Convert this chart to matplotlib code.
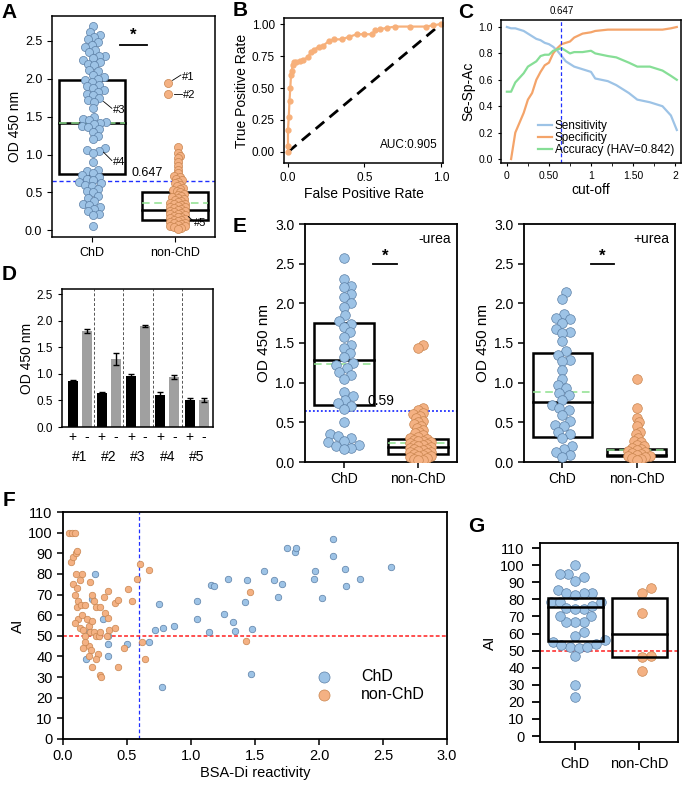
import numpy as np
import matplotlib
matplotlib.use("Agg")
import matplotlib.pyplot as plt
from matplotlib.patches import Rectangle
import matplotlib.transforms as mtransforms

plt.rcParams['font.family'] = ['Liberation Sans', 'DejaVu Sans']
plt.rcParams['axes.linewidth'] = 1.1

BLUE = '#9DC3E6'
BLUE_EDGE = '#5B7FA6'
ORANGE = '#F4B183'
ORANGE_EDGE = '#C9854F'
MEAN_GREEN = '#8EE08E'

# ---------------- data ----------------
# A: OD 450 nm, BSA-Di ELISA
a_chd = [2.70, 2.62, 2.58, 2.55, 2.52, 2.48, 2.45, 2.42, 2.38, 2.35, 2.30, 2.30, 2.28,
         2.25, 2.22, 2.20, 2.18, 2.12, 2.10, 2.05, 2.02, 2.00, 1.98, 1.96, 1.92, 1.90,
         1.88, 1.85, 1.83, 1.80, 1.78, 1.75, 1.72, 1.70, 1.62, 1.50, 1.47, 1.45, 1.43,
         1.42, 1.40, 1.38, 1.36, 1.34, 1.30, 1.25, 1.20, 1.08, 1.06, 1.05, 1.02, 0.90,
         0.80, 0.78, 0.75, 0.73, 0.70, 0.68, 0.66, 0.64, 0.62, 0.60, 0.58, 0.55, 0.52,
         0.50, 0.45, 0.42, 0.38, 0.35, 0.33, 0.30, 0.28, 0.25, 0.22, 0.20, 0.05]
a_non = [1.10, 1.02, 0.98, 0.95, 0.90, 0.85, 0.80, 0.75, 0.72, 0.70, 0.68, 0.66, 0.64,
         0.62, 0.60, 0.58, 0.56, 0.55, 0.53, 0.52, 0.50, 0.48, 0.47, 0.45, 0.44, 0.42,
         0.41, 0.40, 0.38, 0.37, 0.36, 0.35, 0.34, 0.33, 0.32, 0.31, 0.30, 0.29, 0.28,
         0.27, 0.26, 0.25, 0.24, 0.23, 0.22, 0.21, 0.20, 0.19, 0.18, 0.17, 0.16, 0.15,
         0.14, 0.13, 0.12, 0.11, 0.10, 0.09, 0.08, 0.07, 0.06, 0.05, 0.04, 0.03, 0.02]
a_outliers = [1.94, 1.80]          # #1, #2
a_box_chd = [0.74, 1.41, 1.98, 1.41]   # low, median, high, mean
a_box_non = [0.13, 0.27, 0.51, 0.36]
a_cut = 0.647

# B: ROC
roc_fpr = [0.0, 0.0, 0.0, 0.005, 0.01, 0.015, 0.02, 0.025, 0.03, 0.04, 0.05, 0.08, 0.10,
           0.13, 0.15, 0.17, 0.20, 0.23, 0.27, 0.30, 0.35, 0.40, 0.45, 0.50, 0.55, 0.57,
           0.60, 0.65, 0.70, 0.80, 0.90, 0.95, 1.0]
roc_tpr = [0.0, 0.05, 0.17, 0.27, 0.40, 0.50, 0.60, 0.63, 0.68, 0.70, 0.70, 0.71, 0.72,
           0.74, 0.78, 0.80, 0.82, 0.83, 0.87, 0.88, 0.88, 0.90, 0.92, 0.92, 0.92, 0.95,
           0.96, 0.97, 0.98, 0.98, 0.98, 0.99, 1.0]

# C: Se-Sp-Ac vs cut-off
c_cut = [0.0, 0.05, 0.1, 0.2, 0.25, 0.3, 0.35, 0.4, 0.45, 0.5, 0.55, 0.6, 0.65, 0.7, 0.75,
         0.8, 0.9, 1.0, 1.05, 1.2, 1.3, 1.45, 1.55, 1.7, 1.85, 1.95, 2.02]
c_sens = [1.0, 0.99, 0.99, 0.97, 0.95, 0.93, 0.91, 0.90, 0.88, 0.87, 0.85, 0.82, 0.78,
          0.74, 0.72, 0.70, 0.68, 0.66, 0.61, 0.59, 0.56, 0.50, 0.45, 0.43, 0.40, 0.33, 0.22]
c_spec = [np.nan, 0.0, 0.20, 0.35, 0.45, 0.50, 0.60, 0.66, 0.71, 0.73, 0.80, 0.84, 0.87,
          0.88, 0.89, 0.92, 0.95, 0.96, 0.97, 0.98, 0.98, 0.98, 0.98, 0.98, 0.98, 0.99, 1.0]
c_acc = [0.51, 0.51, 0.58, 0.65, 0.70, 0.72, 0.74, 0.78, 0.79, 0.79, 0.82, 0.83, 0.84,
         0.82, 0.80, 0.81, 0.81, 0.82, 0.80, 0.78, 0.77, 0.73, 0.70, 0.70, 0.67, 0.63, 0.60]

# D: urea treatment of samples #1-#5
d_names = ['#1', '#2', '#3', '#4', '#5']
d_plus = [0.87, 0.65, 0.97, 0.60, 0.50]
d_plus_err = [0.01, 0.01, 0.02, 0.06, 0.05]
d_minus = [1.81, 1.28, 1.90, 0.94, 0.51]
d_minus_err = [0.03, 0.12, 0.02, 0.04, 0.03]

# E: -urea / +urea
e_minus_chd = [2.57, 2.31, 2.22, 2.20, 2.12, 2.08, 2.00, 1.95, 1.85, 1.78, 1.74, 1.70,
               1.64, 1.58, 1.48, 1.44, 1.38, 1.32, 1.25, 1.22, 1.18, 1.13, 1.10, 1.05,
               0.88, 0.83, 0.78, 0.74, 0.71, 0.67, 0.50, 0.35, 0.33, 0.30, 0.27, 0.25,
               0.22, 0.20, 0.18, 0.17]
e_minus_non = [1.47, 1.44, 0.68, 0.65, 0.62, 0.60, 0.58, 0.55, 0.52, 0.50, 0.48, 0.45,
               0.43, 0.40, 0.38, 0.36, 0.34, 0.32, 0.30, 0.29, 0.28, 0.27, 0.26, 0.25,
               0.24, 0.23, 0.22, 0.21, 0.20, 0.19, 0.18, 0.17, 0.16, 0.15, 0.14, 0.13,
               0.12, 0.11, 0.10, 0.09, 0.08, 0.07, 0.06, 0.05, 0.04, 0.03, 0.02]
e_plus_chd = [2.14, 2.05, 1.87, 1.82, 1.80, 1.75, 1.68, 1.64, 1.62, 1.52, 1.40, 1.35,
              1.28, 1.27, 1.16, 1.05, 0.97, 0.93, 0.87, 0.84, 0.78, 0.72, 0.68, 0.65,
              0.59, 0.52, 0.47, 0.45, 0.38, 0.35, 0.30, 0.20, 0.17, 0.12, 0.09, 0.06]
e_plus_non = [1.04, 0.68, 0.55, 0.50, 0.45, 0.38, 0.35, 0.30, 0.27, 0.25, 0.22, 0.20,
              0.18, 0.16, 0.15, 0.14, 0.12, 0.11, 0.10, 0.09, 0.08, 0.07, 0.06, 0.05,
              0.04, 0.03]
e_minus_box_chd = [0.72, 1.29, 1.75, 1.23]
e_minus_box_non = [0.10, 0.19, 0.29, 0.24]
e_plus_box_chd = [0.32, 0.76, 1.38, 0.88]
e_plus_box_non = [0.07, 0.09, 0.17, 0.155]
e_cut = 0.645

# F: AI vs BSA-Di reactivity
f_chd_x = [0.25, 0.23, 0.20, 0.31, 0.35, 0.35, 0.35, 0.18, 0.50, 0.67, 0.72, 0.75, 0.78,
           0.77, 0.87, 1.05, 1.05, 1.14, 1.16, 1.18, 1.26, 1.29, 1.33, 1.34, 1.42, 1.44,
           1.47, 1.48, 1.57, 1.65, 1.68, 1.71, 1.75, 1.81, 1.82, 1.96, 1.97, 2.02, 2.11,
           2.11, 2.20, 2.21, 2.32, 2.56]
f_chd_y = [80, 68, 52, 58, 50, 46, 40, 39, 46, 47, 53, 65.5, 54, 25, 55, 67, 58, 52,
           74.5, 74, 60.5, 77.5, 56.5, 52.5, 66.5, 77, 31.5, 53.5, 81.5, 77, 69, 75, 92.5,
           90.5, 92.5, 77.5, 81.5, 68.5, 97, 88.5, 82.5, 74, 77.5, 83.5]
f_non_x = [0.05, 0.07, 0.09, 0.06, 0.08, 0.10, 0.11, 0.10, 0.15, 0.08, 0.11, 0.13, 0.09,
           0.11, 0.12, 0.14, 0.17, 0.12, 0.15, 0.09, 0.13, 0.16, 0.19, 0.20, 0.21, 0.23,
           0.17, 0.20, 0.17, 0.22, 0.16, 0.20, 0.23, 0.21, 0.23, 0.24, 0.26, 0.29, 0.24,
           0.26, 0.28, 0.29, 0.27, 0.26, 0.29, 0.30, 0.32, 0.35, 0.33, 0.35, 0.34, 0.36,
           0.41, 0.41, 0.43, 0.43, 0.48, 0.51, 0.54, 0.58, 0.60, 0.67, 0.62, 0.64, 1.43,
           1.46]
f_non_y = [100, 100, 100, 86, 88, 90, 91, 80, 80, 75, 73, 77, 70, 64, 67, 65, 65, 58, 60,
           56, 54, 53, 58, 55, 52, 57, 50, 45, 47, 43, 44, 40, 35, 76, 70, 67, 64, 64, 52,
           50, 50, 52, 41, 39, 31, 30, 69, 71.5, 61, 58.5, 50, 53, 54, 66, 67.5, 35, 44,
           72.5, 67, 77.5, 85, 82, 47, 39, 47.5, 71]

# G: AI by group
g_chd = [100, 94.6, 95, 93, 90.6, 85.2, 83.5, 83.5, 83.5, 82.8, 78.5, 78.5, 78.5, 75,
         74.5, 74.5, 76, 70, 66.5, 66.5, 67, 70.5, 61, 58.6, 56, 55, 53.6, 52, 51.6, 52,
         53, 46.8, 29.8, 23]
g_non = [86.7, 83.8, 72, 47, 46.2, 38]
g_box_chd = [55.6, 75.4, 81]
g_box_non = [46.2, 59.6, 80.7]

# ---------------- helpers ----------------
W, H = 686, 789
fig = plt.figure(figsize=(W / 100, H / 100), dpi=100)


def add_ax(x0, y0, x1, y1):
    return fig.add_axes([x0 / W, 1 - y1 / H, (x1 - x0) / W, (y1 - y0) / H])


def swarm_x(ax, x0, vals, s, gap=1.0):
    """simple beeswarm in display space, returns x data coords"""
    vals = np.asarray(vals, float)
    pts = ax.transData.transform(np.column_stack([np.full(len(vals), x0), vals]))
    cx = pts[0, 0]
    ys = pts[:, 1]
    d = np.sqrt(s) * 100 / 72 * gap
    placed = []
    xs = np.zeros(len(vals))
    for i in np.argsort(ys):
        y = ys[i]
        off = 0.0
        for k in range(400):
            cands = [0.0] if k == 0 else [k * d * 0.2, -k * d * 0.2]
            found = False
            for c in cands:
                if all((c - px) ** 2 + (y - py) ** 2 >= d * d for px, py in placed):
                    off = c
                    found = True
                    break
            if found:
                break
        placed.append((off, y))
        xs[i] = cx + off
    back = ax.transData.inverted().transform(np.column_stack([xs, ys]))
    return back[:, 0]


def draw_box(ax, x, w, stats, lw=1.8, mean=True, z=2):
    lo, med, hi = stats[0], stats[1], stats[2]
    ax.add_patch(Rectangle((x - w / 2, lo), w, hi - lo, fill=False, ec='k', lw=lw, zorder=z))
    ax.plot([x - w / 2, x + w / 2], [med, med], color='k', lw=lw, zorder=z)
    if mean and len(stats) > 3:
        ax.plot([x - w / 2, x + w / 2], [stats[3], stats[3]], color=MEAN_GREEN, lw=1.1,
                ls=(0, (5, 3)), zorder=z + 0.1)


def panel_label(x, y, s):
    fig.text(x / W, 1 - y / H, s, fontsize=15, fontweight='bold', ha='center', va='center')


# ---------------- A ----------------
ax = add_ax(52, 16, 215, 237)
ax.set_xlim(-0.48, 1.48)
ax.set_ylim(-0.09, 2.83)
sA = 34
draw_box(ax, 0, 0.8, a_box_chd)
draw_box(ax, 1, 0.8, a_box_non)
ax.axhline(a_cut, color='#1f2fff', lw=1.0, ls=(0, (3, 2)), zorder=1)
ax.text(0.66, a_cut + 0.03, '0.647', fontsize=9, ha='center', va='bottom')
xa = swarm_x(ax, 0.01, a_chd, sA, gap=0.75)
ax.scatter(xa, a_chd, s=sA, c=BLUE, edgecolors=BLUE_EDGE, linewidths=0.5, zorder=3)
xn = swarm_x(ax, 1.03, a_non, sA, gap=0.45)
ax.scatter(xn, a_non, s=sA, c=ORANGE, edgecolors=ORANGE_EDGE, linewidths=0.5, zorder=3)
ax.scatter([0.92, 0.92], a_outliers, s=sA, c=ORANGE, edgecolors=ORANGE_EDGE, linewidths=0.5, zorder=3)
ax.plot([0.34, 0.66], [2.45, 2.45], color='k', lw=1.3)
ax.text(0.5, 2.47, '*', fontsize=12, ha='center', va='bottom', fontweight='bold')
for lbl, p0, p1 in [('#1', (0.97, 1.98), (1.07, 2.05)), ('#2', (0.99, 1.80), (1.08, 1.80)),
                    ('#3', (0.14, 1.70), (0.24, 1.61)), ('#4', (0.14, 1.03), (0.24, 0.92)),
                    ('#5', (1.16, 0.18), (1.22, 0.12))]:
    ax.plot([p0[0], p1[0]], [p0[1], p1[1]], color='k', lw=0.6, zorder=4)
    ax.text(p1[0] + 0.01, p1[1] - 0.02, lbl, fontsize=8, ha='left', va='center', zorder=4)
ax.set_xticks([0, 1])
ax.set_xticklabels(['ChD', 'non-ChD'], fontsize=9.5)
ax.set_yticks([0, 0.5, 1.0, 1.5, 2.0, 2.5])
ax.set_yticklabels(['0.0', '0.5', '1.0', '1.5', '2.0', '2.5'])
ax.tick_params(labelsize=9, length=3.5)
ax.set_ylabel('OD 450 nm', fontsize=10, labelpad=2)

# ---------------- B ----------------
ax = add_ax(284, 18, 443, 163)
ax.set_xlim(-0.026, 1.013)
ax.set_ylim(-0.086, 1.047)
ax.plot([0, 1], [0, 1], color='k', lw=2.0, ls=(0, (4, 2.5)))
ax.plot(roc_fpr, roc_tpr, color='#F7B07A', lw=1.6, marker='o', ms=3.5, mec='#F7B07A')
ax.text(0.98, 0.01, 'AUC:0.905', fontsize=8.5, ha='right', va='bottom')
ax.set_xticks([0, 0.5, 1.0])
ax.set_xticklabels(['0.0', '0.5', '1.0'])
ax.set_yticks([0, 0.25, 0.5, 0.75, 1.0])
ax.set_yticklabels(['0.00', '0.25', '0.50', '0.75', '1.00'])
ax.tick_params(labelsize=8.5, length=3)
ax.set_xlabel('False Positive Rate', fontsize=10, labelpad=2)
ax.set_ylabel('True Positive Rate', fontsize=10, labelpad=2)

# ---------------- C ----------------
narrow = ['Liberation Sans Narrow', 'Liberation Sans']
ax = add_ax(501, 20, 681, 163)
ax.set_xlim(-0.07, 2.07)
ax.set_ylim(-0.03, 1.053)
ax.plot(c_cut, c_sens, color='#9DC3E6', lw=1.6, label='Sensitivity')
ax.plot(c_cut, c_spec, color='#F4A46A', lw=1.6, label='Specificity')
ax.plot(c_cut, c_acc, color='#86DE96', lw=1.6, label='Accuracy (HAV=0.842)')
ax.axvline(0.647, color='#1f2fff', lw=0.9, ls=(0, (3, 2)))
ax.text(0.647, 1.08, '0.647', fontsize=7, ha='center', va='bottom', family=narrow)
ax.set_xticks([0, 0.5, 1, 1.5, 2])
ax.set_xticklabels(['0', '0.50', '1', '1.50', '2'], family=narrow)
ax.set_xticks([0.25, 0.75, 1.25, 1.75], minor=True)
ax.set_yticks([0, 0.2, 0.4, 0.6, 0.8, 1.0])
ax.set_yticklabels(['0.0', '0.2', '0.4', '0.6', '0.8', '1.0'], family=narrow)
ax.tick_params(labelsize=7.5, length=2.5)
ax.tick_params(which='minor', length=2)
ax.set_xlabel('cut-off', fontsize=10, labelpad=1)
ax.set_ylabel('Se-Sp-Ac', fontsize=10, labelpad=2)
ax.legend(loc='lower right', frameon=False, handlelength=1.2,
          handletextpad=0.2, labelspacing=0.0, borderaxespad=0.2,
          prop={'family': narrow, 'size': 8.5})

# ---------------- D ----------------
ax = add_ax(62, 289, 213, 427)
ax.set_xlim(-0.6, 4.56)
ax.set_ylim(0, 2.6)
gx = np.arange(len(d_names))
ax.bar(gx - 0.24, d_plus, width=0.34, color='k', yerr=d_plus_err, capsize=2.5,
       error_kw=dict(lw=1, capthick=1, ecolor='k'))
ax.bar(gx + 0.24, d_minus, width=0.34, color='#A0A0A0', yerr=d_minus_err, capsize=2.5,
       error_kw=dict(lw=1, capthick=1, ecolor='k'))
for i in range(len(d_names) - 1):
    ax.axvline(i + 0.5, color='#555555', lw=0.7, ls=(0, (3, 2)))
ax.set_xticks(np.concatenate([gx - 0.24, gx + 0.24]))
ax.set_xticklabels(['+'] * 5 + ['-'] * 5, fontsize=10)
ax.tick_params(axis='x', length=0, pad=2)
trans = mtransforms.blended_transform_factory(ax.transData, ax.transAxes)
for i, nm in enumerate(d_names):
    ax.text(i, -0.22, nm, transform=trans, fontsize=10, ha='center', va='center')
ax.set_yticks([0, 0.5, 1.0, 1.5, 2.0, 2.5])
ax.set_yticklabels(['0.0', '0.5', '1.0', '1.5', '2.0', '2.5'])
ax.tick_params(axis='y', labelsize=8.5, length=3)
ax.set_ylabel('OD 450 nm', fontsize=10, labelpad=2)

# ---------------- E ----------------
sE = 48
for (x0, x1, chd, non, bchd, bnon, tag, cut, star) in [
        (305, 457, e_minus_chd, e_minus_non, e_minus_box_chd, e_minus_box_non, '-urea', True, (0.39, 0.71)),
        (524, 675, e_plus_chd, e_plus_non, e_plus_box_chd, e_plus_box_non, '+urea', False, (0.38, 0.69))]:
    ax = add_ax(x0, 224, x1, 462)
    ax.set_xlim(-0.52, 1.52)
    ax.set_ylim(0, 3.0)
    draw_box(ax, 0, 0.81, bchd)
    draw_box(ax, 1, 0.81, bnon)
    if cut:
        ax.axhline(e_cut, color='#1f2fff', lw=1.3, ls=(0, (1, 1.2)), zorder=1)
        ax.text(0.5, e_cut + 0.04, '0.59', fontsize=10, ha='center', va='bottom')
    xc = swarm_x(ax, 0, chd, sE, gap=0.8)
    ax.scatter(xc, chd, s=sE, c=BLUE, edgecolors=BLUE_EDGE, linewidths=0.5, zorder=3)
    xo = swarm_x(ax, 1, non, sE, gap=0.45)
    ax.scatter(xo, non, s=sE, c=ORANGE, edgecolors=ORANGE_EDGE, linewidths=0.5, zorder=3)
    ax.plot(list(star), [2.49, 2.49], color='k', lw=1.3)
    ax.text(np.mean(star), 2.5, '*', fontsize=12, ha='center', va='bottom', fontweight='bold')
    ax.text(0.96, 0.965, tag, transform=ax.transAxes, fontsize=10, ha='right', va='top')
    ax.set_xticks([0, 1])
    ax.set_xticklabels(['ChD', 'non-ChD'], fontsize=10.5)
    ax.set_yticks([0, 0.5, 1.0, 1.5, 2.0, 2.5, 3.0])
    ax.set_yticklabels(['0.0', '0.5', '1.0', '1.5', '2.0', '2.5', '3.0'])
    ax.tick_params(labelsize=10, length=4, width=1.1)
    ax.set_ylabel('OD 450 nm', fontsize=11, labelpad=3)
    for sp in ax.spines.values():
        sp.set_linewidth(1.3)

# ---------------- F ----------------
ax = add_ax(63, 512, 447, 739)
ax.set_xlim(0, 3.0)
ax.set_ylim(0, 110)
sF = 22
ax.scatter(f_chd_x, f_chd_y, s=sF, c=BLUE, edgecolors=BLUE_EDGE, linewidths=0.5,
           zorder=3, label='ChD')
ax.scatter(f_non_x, f_non_y, s=sF, c=ORANGE, edgecolors=ORANGE_EDGE, linewidths=0.5,
           zorder=3, label='non-ChD')
ax.axvline(0.59, color='#1f2fff', lw=0.9, ls=(0, (3, 2)), zorder=1)
ax.axhline(50, color='#ff1f1f', lw=1.1, ls=(0, (2.5, 1.5)), zorder=1)
ax.set_xticks(np.arange(0, 3.01, 0.5))
ax.set_xticklabels(['0.0', '0.5', '1.0', '1.5', '2.0', '2.5', '3.0'])
ax.set_yticks(np.arange(0, 111, 10))
ax.tick_params(labelsize=10.5, length=4, width=1.1)
ax.set_xlabel('BSA-Di reactivity', fontsize=10.5, labelpad=2)
ax.set_ylabel('AI', fontsize=11, labelpad=2)
ax.legend(loc='lower right', bbox_to_anchor=(0.98, 0.1), frameon=False, fontsize=11.5,
          markerscale=1.7, handletextpad=1.3, labelspacing=0.2)
for sp in ax.spines.values():
    sp.set_linewidth(1.3)

# ---------------- G ----------------
ax = add_ax(540, 543, 678, 742)
ax.set_xlim(-0.55, 1.61)
ax.set_ylim(-3.5, 113)
sG = 48
ax.axhline(50, color='#ff1f1f', lw=1.1, ls=(0, (2.5, 1.5)), zorder=1)
xg = swarm_x(ax, 0, g_chd, sG, gap=0.9)
ax.scatter(xg, g_chd, s=sG, c=BLUE, edgecolors=BLUE_EDGE, linewidths=0.5, zorder=2)
xg2 = swarm_x(ax, 1.05, g_non, sG, gap=0.95)
ax.scatter(xg2, g_non, s=sG, c=ORANGE, edgecolors=ORANGE_EDGE, linewidths=0.5, zorder=2)
draw_box(ax, 0, 0.86, g_box_chd, mean=False, z=3)
draw_box(ax, 1, 0.86, g_box_non, mean=False, z=3)
ax.set_xticks([0, 1])
ax.set_xticklabels(['ChD', 'non-ChD'], fontsize=10.5)
ax.set_yticks(np.arange(0, 111, 10))
ax.tick_params(labelsize=10.5, length=6, width=1.3, pad=5)
ax.set_ylabel('AI', fontsize=11, labelpad=2)
for sp in ax.spines.values():
    sp.set_linewidth(1.3)

# panel letters
panel_label(9, 12, 'A')
panel_label(240, 11, 'B')
panel_label(466, 12, 'C')
panel_label(9, 275, 'D')
panel_label(240, 226, 'E')
panel_label(9, 500, 'F')
panel_label(476, 527, 'G')

fig.savefig('out.png', dpi=100)
